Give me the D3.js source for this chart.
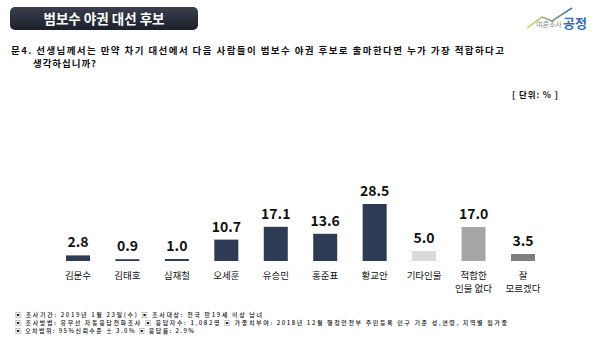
<!DOCTYPE html>
<html><head><meta charset="utf-8">
<script src="https://cdn.jsdelivr.net/npm/d3@7"></script>
<style>
html,body{margin:0;padding:0;background:#fff;}
svg{display:block;font-family:"Noto Sans CJK KR","Noto Sans",sans-serif;}
</style></head>
<body>
<svg id="chart" width="599" height="339"></svg>
<script>
const categories = ["김문수","김태호","심재철","오세훈","유승민","홍준표","황교안","기타인물","적합한 인물 없다","잘 모르겠다"];
const labelLines = [["김문수"],["김태호"],["심재철"],["오세훈"],["유승민"],["홍준표"],["황교안"],["기타인물"],["적합한","인물 없다"],["잘","모르겠다"]];
const values = [2.8,0.9,1.0,10.7,17.1,13.6,28.5,5.0,17.0,3.5];
const colors = ["#2e3b54","#2e3b54","#2e3b54","#2e3b54","#2e3b54","#2e3b54","#2e3b54","#d9d9d9","#a6a6a6","#7f7f7f"];
const title = "범보수 야권 대선 후보";
const question = ["문4. 선생님께서는 만약 차기 대선에서 다음 사람들이 범보수 야권 후보로 출마한다면 누가 가장 적합하다고","생각하십니까?"];
const unit = "[ 단위: % ]";
const footer = ["▣ 조사기간: 2019년 1월 23일(수) ▣ 조사대상: 전국 만19세 이상 남녀",
"▣ 조사방법: 유무선 자동응답전화조사 ▣ 응답자수: 1,082명 ▣ 가중치부여: 2018년 12월 행정안전부 주민등록 인구 기준 성,연령, 지역별 림가중",
"▣ 오차범위: 95%신뢰수준 ± 3.0% ▣ 응답률: 2.9%"];
const footerWidths = [247,492,179];

const svg = d3.select("#chart");
const defs = svg.append("defs");
const g1 = defs.append("linearGradient").attr("id","tg").attr("x1",0).attr("y1",0).attr("x2",0).attr("y2",1);
g1.append("stop").attr("offset","0%").attr("stop-color","#3b3f4e");
g1.append("stop").attr("offset","100%").attr("stop-color","#1c1f2b");
const g2 = defs.append("linearGradient").attr("id","lg").attr("x1",0).attr("y1",0).attr("x2",1).attr("y2",0);
g2.append("stop").attr("offset","0%").attr("stop-color","#c8d84a");
g2.append("stop").attr("offset","100%").attr("stop-color","#3a6fb8");

// title box
svg.append("rect").attr("x",10).attr("y",7).attr("width",188).attr("height",23).attr("rx",5).attr("fill","url(#tg)");
svg.append("text").attr("x",104).attr("y",23.5).attr("text-anchor","middle").attr("fill","#fff")
  .attr("font-size",13.5).attr("font-weight","bold").text(title);

// logo
svg.append("path").attr("d","M527,28 L542,17 L552,21 L572,8").attr("fill","none").attr("stroke","url(#lg)").attr("stroke-width",1.5);
svg.append("text").attr("x",536).attr("y",27).attr("font-size",7).attr("fill","#8a8a8a").text("여론조사");
svg.append("text").attr("x",563).attr("y",28).attr("font-size",13).attr("font-weight","bold").attr("fill","#2f6db5").text("공정");

// question
svg.append("text").attr("x",11).attr("y",54).attr("font-size",9.5).attr("font-weight","bold").attr("fill","#111")
  .attr("textLength",493).attr("lengthAdjust","spacing").text(question[0]);
svg.append("text").attr("x",33).attr("y",67.3).attr("font-size",9.5).attr("font-weight","bold").attr("fill","#111")
  .attr("textLength",63).attr("lengthAdjust","spacing").text(question[1]);
svg.append("text").attr("x",512).attr("y",98).attr("font-size",8.5).attr("font-weight","bold").attr("fill","#111")
  .attr("textLength",46).attr("lengthAdjust","spacing").text(unit);

// scales
const x = d3.scalePoint().domain(categories).range([78,523]);
const y = d3.scaleLinear().domain([0,28.5]).range([261,204]);
const bw = 24;

svg.append("g").selectAll("rect").data(categories).join("rect")
  .attr("x",d=>x(d)-bw/2).attr("width",bw)
  .attr("y",(d,i)=>y(values[i])).attr("height",(d,i)=>y(0)-y(values[i]))
  .attr("fill",(d,i)=>colors[i]);

svg.append("g").selectAll("text").data(categories).join("text")
  .attr("x",d=>x(d)).attr("y",(d,i)=>y(values[i])-8)
  .attr("text-anchor","middle").attr("font-size",14).attr("font-weight","bold").attr("fill","#111")
  .text((d,i)=>values[i].toFixed(1));

const lab = svg.append("g").selectAll("text").data(categories).join("text")
  .attr("x",d=>x(d)).attr("y",278.5).attr("text-anchor","middle").attr("font-size",9.5).attr("fill","#111");
lab.each(function(d,i){
  d3.select(this).selectAll("tspan").data(labelLines[i]).join("tspan")
    .attr("x",x(d)).attr("dy",(t,j)=>j===0?0:13).text(t=>t);
});

// footer
svg.append("g").selectAll("text").data(footer).join("text")
  .attr("x",15).attr("y",(d,i)=>316.5+i*8.2).attr("font-size",6).attr("font-weight",500).attr("fill","#111")
  .attr("textLength",(d,i)=>footerWidths[i]).attr("lengthAdjust","spacing").text(d=>d);
</script>
</body></html>
